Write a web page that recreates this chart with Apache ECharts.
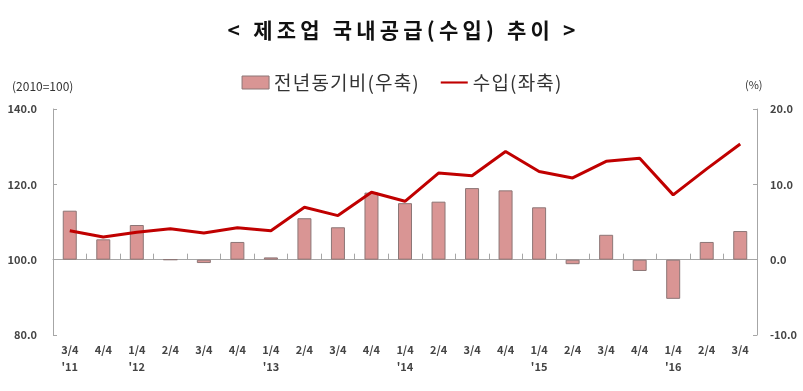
<!DOCTYPE html>
<html><head><meta charset="utf-8">
<script src="https://cdn.jsdelivr.net/npm/echarts@6/dist/echarts.min.js"></script>
<style>html,body{margin:0;padding:0;background:#fff}#c{width:803px;height:391px}</style>
</head><body><div id="c"></div>
<script>
const categories = ["3/4\n'11","4/4","1/4\n'12","2/4","3/4","4/4","1/4\n'13","2/4","3/4","4/4","1/4\n'14","2/4","3/4","4/4","1/4\n'15","2/4","3/4","4/4","1/4\n'16","2/4","3/4"];
const yoyChange = [6.5,2.7,4.6,0,-0.45,2.35,0.3,5.5,4.3,8.9,7.5,7.7,9.5,9.2,6.95,-0.6,3.3,-1.5,-5.2,2.35,3.8];
const importIndex = [107.7,106.0,107.3,108.2,107.1,108.5,107.7,113.9,111.7,117.9,115.5,123.0,122.3,128.7,123.4,121.7,126.1,126.9,117.2,124.1,130.7];
const leftTicks = {min:80,max:140,interval:20};
const rightTicks = {min:-10,max:20,interval:10};
const titleText = "< 제조업 국내공급(수입) 추이 >";
const barName = "전년동기비(우축)";
const lineName = "수입(좌축)";

const spaced = (s, sp) => Array.from(s).join(sp);
const spacedTitle = titleText.split(' ').map(w => spaced(w, '\u2009')).join('\u2009 \u2009');
const font = "'Noto Sans CJK KR', 'Noto Sans', sans-serif";
const chart = echarts.init(document.getElementById('c'));
chart.setOption({
  animation:false,
  backgroundColor:'#fff',
  title:{text:spacedTitle,left:'center',top:15,textStyle:{fontFamily:font,fontSize:21,fontWeight:'bold',color:'#111'}},
  legend:{top:68,left:'center',itemGap:22,itemWidth:27,itemHeight:13,
    formatter:n=>spaced(n,'\u200A'),
    textStyle:{fontFamily:font,fontSize:19,color:'#333'},
    data:[{name:barName,icon:'rect',itemStyle:{borderColor:'#8c7676',borderWidth:1}},
          {name:lineName,icon:'path://M0,6 L32,6 L32,8.5 L0,8.5 Z'}]},
  graphic:[
    {type:'text',left:12,top:80,style:{text:'(2010=100)',font:'12px '+font,fill:'#333'}},
    {type:'text',left:745,top:79,style:{text:'(%)',font:'11px '+font,fill:'#333'}}
  ],
  grid:{left:53,right:46,top:109,bottom:56},
  xAxis:[
    {type:'category',data:categories,position:'bottom',
     axisLine:{show:false},axisTick:{show:false},
     axisLabel:{fontFamily:font,fontSize:11,fontWeight:'bold',color:'#444',margin:6,lineHeight:17,interval:0}},
    {type:'category',data:categories,position:'bottom',
     axisLine:{show:true,onZero:true,onZeroAxisIndex:1,lineStyle:{color:'#a6a6a6',width:1}},
     axisTick:{show:true,inside:true,length:6,lineStyle:{color:'#a6a6a6'}},
     axisLabel:{show:false}}
  ],
  yAxis:[
    {type:'value',min:leftTicks.min,max:leftTicks.max,interval:leftTicks.interval,position:'left',
     axisLine:{show:true,lineStyle:{color:'#a6a6a6'}},axisTick:{show:true,inside:true,length:4,lineStyle:{color:'#a6a6a6'}},
     splitLine:{show:false},
     axisLabel:{formatter:v=>v.toFixed(1),fontFamily:font,fontSize:11,fontWeight:'bold',color:'#444',margin:16}},
    {type:'value',min:rightTicks.min,max:rightTicks.max,interval:rightTicks.interval,position:'right',
     axisLine:{show:true,lineStyle:{color:'#a6a6a6'}},axisTick:{show:true,inside:true,length:4,lineStyle:{color:'#a6a6a6'}},
     splitLine:{show:false},
     axisLabel:{formatter:v=>v.toFixed(1),fontFamily:font,fontSize:11,fontWeight:'bold',color:'#444',margin:13}}
  ],
  series:[
    {name:barName,type:'bar',xAxisIndex:0,yAxisIndex:1,data:yoyChange,barWidth:14,
     itemStyle:{color:'#d99594',borderColor:'#8c7676',borderWidth:1},z:2},
    {name:lineName,type:'line',xAxisIndex:0,yAxisIndex:0,data:importIndex,symbol:'none',
     lineStyle:{color:'#c00000',width:3},itemStyle:{color:'#c00000'},z:3}
  ]
});
</script></body></html>
